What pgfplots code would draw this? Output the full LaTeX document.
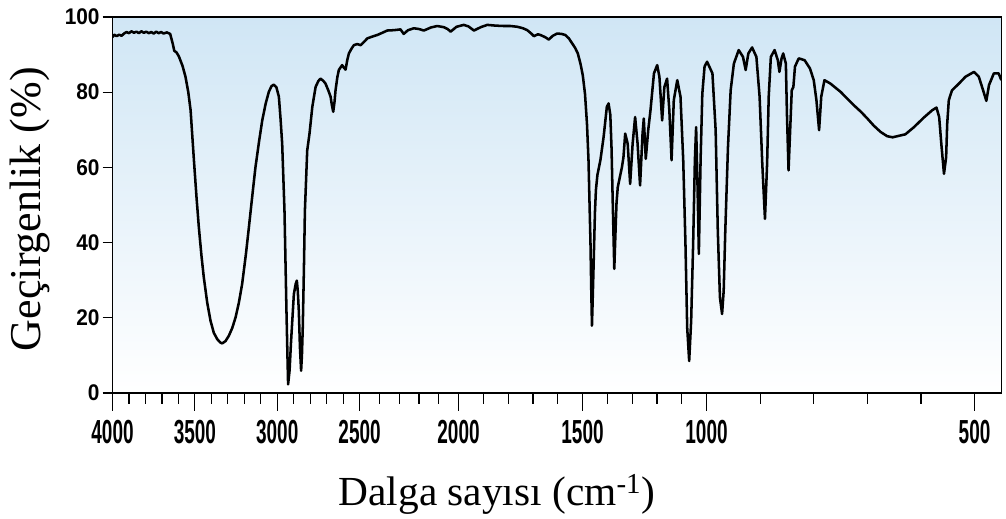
\documentclass[border=0pt]{standalone}
\usepackage{fontspec}
\setmainfont{Liberation Serif}
\newfontfamily\xtf{Liberation Sans}[FakeStretch=0.57]
\newfontfamily\ytf{Liberation Sans}[FakeStretch=0.92]
\usepackage{pgfplots}
\pgfplotsset{compat=1.18}
\definecolor{bgtop}{RGB}{208,230,245}
\pgfplotsset{
  irx/.style={
    scale only axis, width=666.6pt, height=282pt,
    xmin=4000, xmax=450, ymin=0, ymax=100,
    x coord trafo/.code={\pgfmathparse{##1>=2500 ? (4000-##1)*0.1647 : (##1>=2000 ? 247+(2500-##1)*0.198 : (##1>=1000 ? 346+(2000-##1)*0.248 : 594+(1000-##1)*0.536))}},
    x coord inv trafo/.code={\pgfmathparse{##1<=247 ? 4000-##1/0.1647 : (##1<=346 ? 2500-(##1-247)/0.198 : (##1<=594 ? 2000-(##1-346)/0.248 : 1000-(##1-594)/0.536))}},
    tick align=outside, tick pos=left,
    tick style={black, line width=0.9pt},
  }
}
\pgfplotstableread{
w T
4000 94.6
3990 95.3
3975 94.9
3960 95.3
3945 95.0
3930 95.6
3915 96.0
3900 95.7
3885 96.2
3870 95.8
3855 96.1
3840 95.7
3825 96.2
3810 95.8
3795 96.1
3780 95.7
3765 96.0
3750 95.6
3735 96.1
3720 95.7
3705 96.0
3690 95.6
3670 95.9
3650 95.5
3635 93.0
3625 91.0
3612 90.6
3597 89.5
3575 87.0
3557 84.1
3540 80.0
3526 75.2
3506 62.0
3490 52.0
3476 44.1
3460 36.5
3446 30.8
3425 24.0
3405 19.2
3385 16.0
3364 14.3
3345 13.4
3334 13.2
3314 13.8
3294 15.2
3273 17.3
3253 20.1
3233 24.0
3213 29.0
3190 37.0
3172 44.1
3150 53.0
3132 60.1
3110 67.0
3091 72.5
3070 77.0
3051 80.1
3035 81.6
3021 82.0
3005 81.3
2990 78.8
2980 73.0
2970 66.3
2956 48.5
2944 21.9
2938 10.0
2934 2.3
2925 6.0
2917 13.0
2899 26.3
2888 29.0
2881 29.9
2875 27.0
2869 21.9
2862 12.0
2855 5.9
2850 10.0
2845 17.4
2838 33.0
2832 48.5
2818 64.5
2804 69.0
2787 76.1
2767 81.4
2750 83.0
2737 83.6
2720 83.0
2707 82.3
2690 80.5
2676 78.8
2668 76.5
2660 74.8
2652 77.5
2646 80.5
2635 84.0
2626 85.9
2606 87.2
2595 86.5
2585 86.0
2575 88.5
2565 90.3
2550 91.5
2535 92.5
2515 92.8
2494 92.5
2475 93.5
2461 94.3
2435 94.8
2411 95.2
2385 95.8
2360 96.4
2325 96.5
2293 96.7
2277 95.5
2255 96.5
2226 97.0
2200 96.8
2175 96.4
2140 97.2
2108 97.6
2075 97.3
2055 96.8
2040 96.1
2010 97.4
1979 97.9
1960 97.5
1938 96.4
1910 97.3
1884 97.9
1850 97.7
1817 97.6
1790 97.6
1763 97.4
1740 97.0
1723 96.5
1705 95.5
1696 94.9
1680 95.4
1669 95.2
1650 94.6
1636 94.0
1620 95.0
1602 95.6
1585 95.5
1569 95.2
1555 94.3
1546 93.4
1530 91.8
1519 90.3
1508 87.5
1499 84.5
1490 79.5
1482 71.5
1476 62.0
1472 51.0
1468 40.0
1465 28.0
1462 17.9
1459 25.0
1455 35.0
1450 48.0
1446 54.0
1440 58.0
1428 61.9
1415 68.1
1402 76.1
1395 77.0
1388 74.0
1383 65.0
1379 53.0
1372 33.0
1367 43.0
1363 50.5
1358 54.7
1348 57.9
1341 60.1
1335 62.7
1328 69.0
1318 66.3
1308 55.6
1298 66.3
1288 73.4
1278 66.3
1268 55.2
1258 69.0
1253 73.0
1245 62.3
1235 70.0
1226 75.2
1212 85.0
1199 87.2
1190 84.1
1179 72.5
1170 81.4
1159 83.6
1150 75.2
1141 61.9
1132 77.9
1118 83.2
1105 78.8
1094 61.9
1085 39.7
1078 17.4
1070 8.5
1062 19.2
1054 39.7
1047 61.9
1042 70.7
1037 57.4
1031 37.0
1024 61.9
1017 79.6
1008 86.8
999 88.1
989 85.0
983 69.9
979 43.2
975 25.4
971 21.0
968 27.2
965 43.2
960 65.4
955 80.5
949 87.6
940 91.2
932 89.4
927 85.9
922 90.3
915 91.9
907 89.4
901 78.8
896 61.0
891 46.3
887 61.0
884 78.8
880 89.4
873 91.2
867 88.5
864 85.4
860 89.0
857 90.3
852 87.6
850 74.3
847 59.2
844 69.9
841 80.5
838 81.4
835 86.8
828 89.0
817 88.5
807 86.3
800 83.2
795 77.9
790 69.9
786 78.8
780 83.2
769 82.3
750 80.1
725 76.5
712 74.8
700 73.0
688 71.1
675 69.4
663 68.3
653 68.0
644 68.3
629 68.8
613 70.7
595 73.2
579 75.2
571 75.9
566 73.4
562 66.3
557 58.3
553 62.7
551 71.6
548 77.9
542 80.5
529 82.3
517 84.1
501 85.4
492 84.1
484 80.5
478 77.7
473 81.9
464 85.0
455 85.0
450 83.2
}\spectrum
\begin{document}
\begin{tikzpicture}
\begin{axis}[
  irx,
  xtick=\empty,
  ytick={0,20,40,60,80,100},
  yticklabels={0,20,40,60,80,100},
  major tick length=7.5pt,
  axis line style={line width=1.2pt},
  axis background/.style={shade, top color=bgtop, bottom color=white},
  yticklabel style={font=\ytf\bfseries\fontsize{17}{18}\selectfont, inner sep=2pt},
  xlabel={Dalga sayısı (cm\textsuperscript{-1})},
  xlabel style={font=\fontsize{31}{36}\selectfont, at={(axis description cs:0.4325,-0.3005)}, anchor=base},
  ylabel={Geçirgenlik (\%)},
  ylabel style={font=\fontsize{33}{38}\selectfont, at={(axis description cs:-0.0816,0.489)}, anchor=base},
]
\addplot[black, line width=1.9pt, line join=round] table[x=w, y=T] {\spectrum};
\end{axis}
\begin{axis}[
  irx,
  ytick=\empty,
  axis line style={draw=none},
  xtick={4000,3500,3000,2500,2000,1500,1000,500},
  xticklabels={4000,3500,3000,2500,2000,1500,1000,500},
  minor xtick={3900,3800,3700,3600,3400,3300,3200,3100,2900,2800,2700,2600,2400,2300,2200,2100,1900,1800,1700,1600,1400,1300,1200,1100,900,800,700,600},
  major tick length=13.5pt, minor tick length=8.25pt,
  xticklabel style={font=\xtf\bfseries\fontsize{25}{26}\selectfont, inner sep=7pt},
]
\end{axis}
\pgfresetboundingbox
\path[use as bounding box] ([xshift=-84.4pt,yshift=-94.5pt]current axis.south west) rectangle ([xshift=3.5pt,yshift=12.75pt]current axis.north east);
\end{tikzpicture}
\end{document}
